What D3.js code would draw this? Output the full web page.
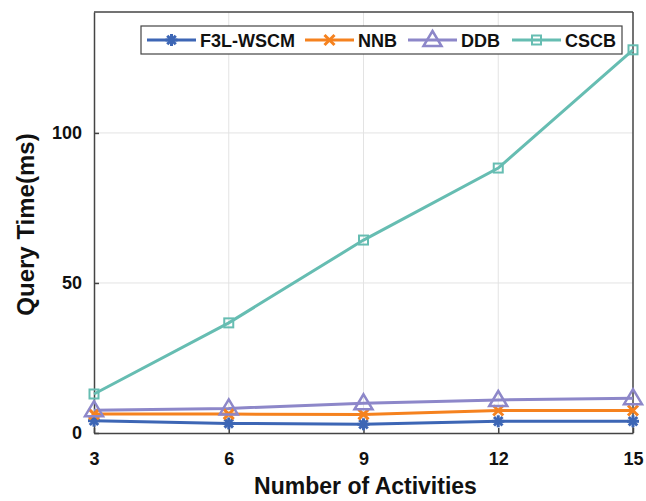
<!DOCTYPE html>
<html>
<head>
<meta charset="utf-8">
<script src="https://cdn.jsdelivr.net/npm/d3@7"></script>
<style>
  body { margin: 0; background: #fff; }
  text { font-family: "Liberation Sans", Arial, sans-serif; font-weight: bold; }
</style>
</head>
<body>
<div id="chart"></div>
<script>
// data
var activities = [3, 6, 9, 12, 15];
var xTicks = [3, 6, 9, 12, 15];
var yTicks = [0, 50, 100];
var seriesNames = ["F3L-WSCM", "NNB", "DDB", "CSCB"];
var f3lValues = [4.1, 3.2, 2.9, 3.9, 3.9];
var nnbValues = [6.3, 6.3, 6.2, 7.5, 7.5];
var ddbValues = [7.6, 8.2, 9.9, 11.0, 11.6];
var cscbValues = [13.0, 36.7, 64.3, 88.3, 127.7];

var colors = ["#3d66b5", "#f5821f", "#8d87c9", "#66bdb2"];
var markers = ["star", "cross", "triangle", "square"];

var margin = {top: 12, right: 13, bottom: 68, left: 94};
var W = 646, H = 501;
var width = W - margin.left - margin.right, height = H - margin.top - margin.bottom;

var svg = d3.select("#chart").append("svg")
  .attr("width", W).attr("height", H)
  .append("g")
  .attr("transform", "translate(" + margin.left + "," + margin.top + ")");

var x = d3.scaleLinear().domain([3, 15]).range([0, width]);
var y = d3.scaleLinear().domain([0, 140.3]).range([height, 0]);

// grid
svg.append("g").selectAll("line")
  .data(xTicks.slice(1, -1)).enter().append("line")
  .attr("x1", d => x(d)).attr("x2", d => x(d))
  .attr("y1", 0).attr("y2", height)
  .attr("stroke", "#e3e3e3").attr("stroke-width", 1);
svg.append("g").selectAll("line")
  .data(yTicks.slice(1)).enter().append("line")
  .attr("x1", 0).attr("x2", width)
  .attr("y1", d => y(d)).attr("y2", d => y(d))
  .attr("stroke", "#e3e3e3").attr("stroke-width", 1);

// axes
var xAxis = svg.append("g")
  .attr("transform", "translate(0," + height + ")")
  .call(d3.axisBottom(x).tickValues(xTicks).tickSizeInner(-5).tickSizeOuter(0).tickPadding(19));
var yAxis = svg.append("g")
  .call(d3.axisLeft(y).tickValues(yTicks).tickSizeInner(-5).tickSizeOuter(0).tickPadding(12));
[xAxis, yAxis].forEach(function(a){
  a.select(".domain").attr("stroke", "#444").attr("stroke-width", 1.5);
  a.selectAll(".tick line").attr("stroke", "#444").attr("stroke-width", 1.5);
  a.selectAll(".tick text").attr("font-size", 18).attr("fill", "#111")
    .style("font-family", "'Liberation Sans', Arial, sans-serif").style("font-weight", "bold");
});
// top and right frame
svg.append("line").attr("x1", 0).attr("x2", width).attr("y1", 0).attr("y2", 0)
  .attr("stroke", "#444").attr("stroke-width", 1.5);
svg.append("line").attr("x1", width).attr("x2", width).attr("y1", 0).attr("y2", height)
  .attr("stroke", "#444").attr("stroke-width", 1.5);

// axis titles
svg.append("text")
  .attr("x", width / 2 + 2).attr("y", height + 61)
  .attr("text-anchor", "middle").attr("font-size", 23).attr("fill", "#111")
  .text("Number of Activities");
svg.append("text")
  .attr("transform", "rotate(-90)")
  .attr("x", -height / 2 - 2).attr("y", -60)
  .attr("text-anchor", "middle").attr("font-size", 24).attr("fill", "#111")
  .text("Query Time(ms)");

function drawMarker(g, type, color, cx, cy) {
  if (type === "star") {
    for (var k = 0; k < 4; k++) {
      var a = k * Math.PI / 4;
      g.append("line")
        .attr("x1", cx - 6 * Math.cos(a)).attr("y1", cy - 6 * Math.sin(a))
        .attr("x2", cx + 6 * Math.cos(a)).attr("y2", cy + 6 * Math.sin(a))
        .attr("stroke", color).attr("stroke-width", 3);
    }
  } else if (type === "cross") {
    g.append("path")
      .attr("d", "M" + (cx - 5) + "," + (cy - 5) + "L" + (cx + 5) + "," + (cy + 5) +
                 "M" + (cx - 5) + "," + (cy + 5) + "L" + (cx + 5) + "," + (cy - 5))
      .attr("stroke", color).attr("stroke-width", 3).attr("fill", "none");
  } else if (type === "triangle") {
    g.append("path")
      .attr("d", "M" + cx + "," + (cy - 9) + "L" + (cx + 9) + "," + (cy + 6) + "L" + (cx - 9) + "," + (cy + 6) + "Z")
      .attr("stroke", color).attr("stroke-width", 2.5).attr("fill", "none");
  } else {
    g.append("rect")
      .attr("x", cx - 4.5).attr("y", cy - 4.5).attr("width", 9).attr("height", 9)
      .attr("stroke", color).attr("stroke-width", 2).attr("fill", "none");
  }
}

var allValues = [f3lValues, nnbValues, ddbValues, cscbValues];
var line = d3.line().x((d, i) => x(activities[i])).y(d => y(d));

allValues.forEach(function(vals, s) {
  svg.append("path")
    .datum(vals)
    .attr("fill", "none")
    .attr("stroke", colors[s])
    .attr("stroke-width", 3)
    .attr("d", line);
});
allValues.forEach(function(vals, s) {
  var g = svg.append("g");
  vals.forEach(function(v, i) {
    drawMarker(g, markers[s], colors[s], x(activities[i]), y(v));
  });
});

// legend
var legend = svg.append("g").attr("transform", "translate(" + (141 - margin.left) + "," + (26 - margin.top) + ")");
legend.append("rect")
  .attr("x", 0).attr("y", 0).attr("width", 481).attr("height", 28)
  .attr("fill", "#fff").attr("stroke", "#444").attr("stroke-width", 1.2);
var legendX = [6, 164, 267, 371];
seriesNames.forEach(function(name, s) {
  var lx = legendX[s];
  legend.append("line")
    .attr("x1", lx).attr("x2", lx + 49).attr("y1", 14).attr("y2", 14)
    .attr("stroke", colors[s]).attr("stroke-width", 3);
  drawMarker(legend, markers[s], colors[s], lx + 24.5, 14);
  legend.append("text")
    .attr("x", lx + 53).attr("y", 21)
    .attr("font-size", 18).attr("fill", "#111")
    .text(name);
});
</script>
</body>
</html>
